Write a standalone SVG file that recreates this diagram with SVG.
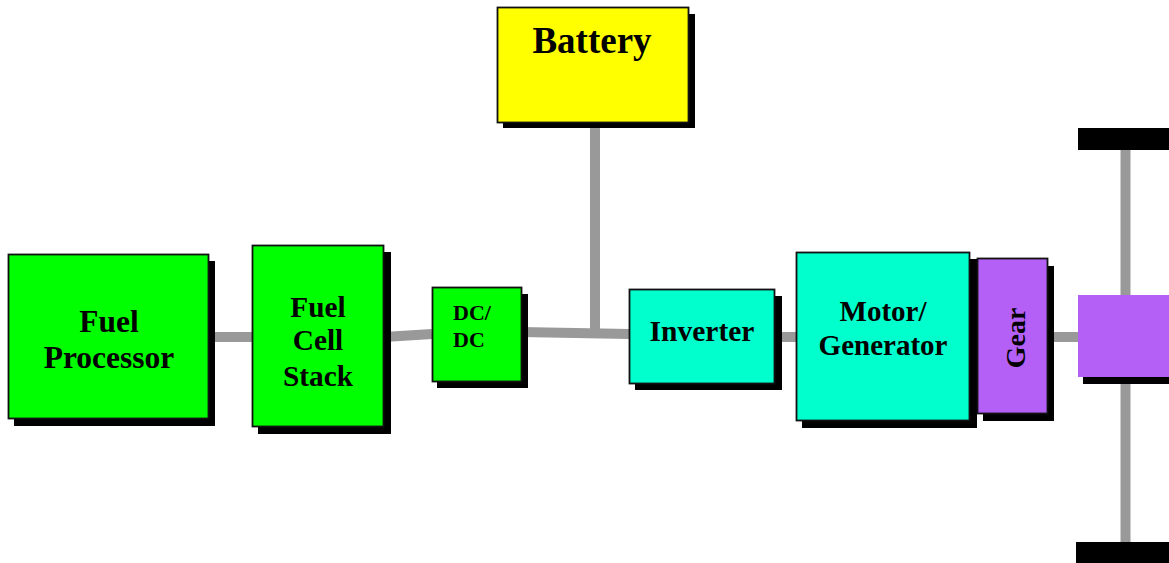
<svg xmlns="http://www.w3.org/2000/svg" width="1169" height="563" viewBox="0 0 1169 563">
<style>
.sh{fill:#000}
.box{stroke:#111;stroke-width:1.8}
.g{fill:#00ff00}
.c{fill:#00ffcc}
.p{fill:#b460f6}
.y{fill:#ffff00}
.t{font-family:"Liberation Serif","Times New Roman",serif;font-weight:bold;fill:#000;text-anchor:middle}
.wire{stroke:#999;stroke-width:10;fill:none}
</style>
<rect width="1169" height="563" fill="#fff"/>
<g id="connectors">
<line class="wire" x1="209" y1="337" x2="253" y2="337"/>
<line class="wire" x1="384" y1="337" x2="432" y2="334"/>
<line class="wire" x1="521" y1="332" x2="629" y2="334"/>
<line class="wire" x1="595" y1="122" x2="595" y2="333"/>
<line class="wire" x1="774" y1="337" x2="797" y2="337"/>
<line class="wire" x1="1047" y1="337" x2="1078" y2="337"/>
<line class="wire" x1="1125.5" y1="150" x2="1125.5" y2="295" stroke-width="11"/>
<line class="wire" x1="1125.5" y1="384" x2="1125.5" y2="542" stroke-width="11"/>
</g>
<g id="fuel-processor">
<rect class="sh" x="14" y="261" width="201" height="165"/>
<rect class="box g" x="8.5" y="254.5" width="200" height="164"/>
<text class="t" font-size="31.5" x="109" y="332">Fuel</text>
<text class="t" font-size="31.5" x="109" y="368">Processor</text>
</g>
<g id="fuel-cell-stack">
<rect class="sh" x="258" y="252" width="133" height="182"/>
<rect class="box g" x="252.5" y="245.5" width="131" height="181"/>
<text class="t" font-size="29.3" x="318" y="317">Fuel</text>
<text class="t" font-size="29.3" x="318" y="350">Cell</text>
<text class="t" font-size="29.3" x="318" y="386">Stack</text>
</g>
<g id="dcdc">
<rect class="sh" x="437" y="294" width="91" height="94"/>
<rect class="box g" x="432.5" y="287.5" width="89" height="94"/>
<text class="t" font-size="22" x="453" y="320" style="text-anchor:start">DC/</text>
<text class="t" font-size="22" x="453" y="347" style="text-anchor:start">DC</text>
</g>
<g id="battery">
<rect class="sh" x="503" y="14" width="192" height="114"/>
<rect class="box y" x="497.5" y="7.5" width="191" height="115"/>
<text class="t" font-size="37" x="592" y="53">Battery</text>
</g>
<g id="inverter">
<rect class="sh" x="635" y="296" width="147" height="94"/>
<rect class="box c" x="629.5" y="289.5" width="145" height="94"/>
<text class="t" font-size="29.5" x="702" y="341">Inverter</text>
</g>
<g id="motor-generator">
<rect class="sh" x="802" y="259" width="175" height="169"/>
<rect class="box c" x="796.5" y="252.5" width="173" height="168"/>
<text class="t" font-size="29" x="883" y="321">Motor/</text>
<text class="t" font-size="29" x="883" y="355">Generator</text>
</g>
<g id="gear">
<rect class="sh" x="983" y="266" width="71" height="155"/>
<rect class="box p" x="977.5" y="258.5" width="70" height="155"/>
<text class="t" font-size="28" transform="translate(1025 338) rotate(-90)" x="0" y="0">Gear</text>
</g>
<g id="wheel-axle">
<rect class="sh" x="1083" y="300" width="86" height="84"/>
<rect class="p" x="1078" y="295" width="91" height="82"/>
<rect fill="#000" x="1078" y="128" width="91" height="22"/>
<rect fill="#000" x="1076" y="542" width="93" height="21"/>
</g>
</svg>
